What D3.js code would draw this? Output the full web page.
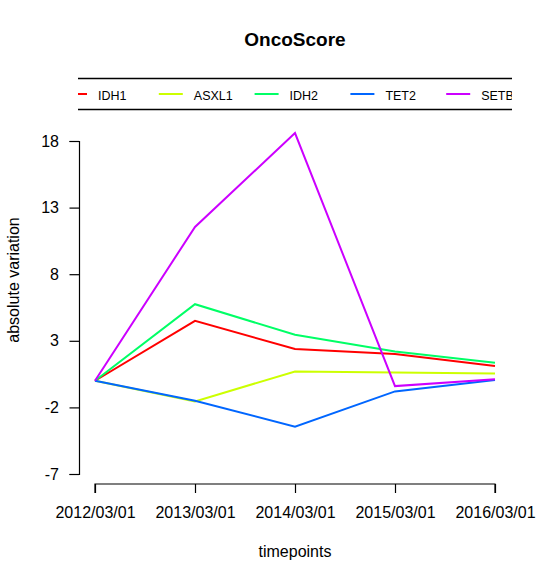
<!DOCTYPE html>
<html>
<head>
<meta charset="utf-8">
<script src="https://cdn.jsdelivr.net/npm/d3@7"></script>
<style>
  body { margin: 0; background: #fff; }
  text { font-family: "Liberation Sans", Arial, sans-serif; }
</style>
</head>
<body>
<div id="chart"></div>
<script>
// data
const timepoints = ['2012/03/01', '2013/03/01', '2014/03/01', '2015/03/01', '2016/03/01'];
const genes = ['IDH1', 'ASXL1', 'IDH2', 'TET2', 'SETBP1'];
const colors = ['#FF0000', '#CCFF00', '#00FF66', '#0066FF', '#CC00FF'];
const idh1 = [0, 4.5, 2.38, 2.0, 1.1];
const asxl1 = [0, -1.55, 0.7, 0.62, 0.55];
const idh2 = [0, 5.75, 3.45, 2.2, 1.35];
const tet2 = [0, -1.5, -3.45, -0.8, 0.05];
const setbp1 = [0, 11.55, 18.6, -0.4, 0.12];
const yTicks = [-7, -2, 3, 8, 13, 18];

const series = [idh1, asxl1, idh2, tet2, setbp1];

const W = 552, H = 581;
const svg = d3.select('#chart')
  .append('svg')
  .attr('width', W)
  .attr('height', H);

const x = d3.scalePoint().domain(timepoints).range([95, 495]);
const y = d3.scaleLinear().domain([-7, 18]).range([474, 141]);

// title
svg.append('text')
  .attr('x', 295).attr('y', 46)
  .attr('text-anchor', 'middle')
  .style('font-size', '19px')
  .style('font-weight', 'bold')
  .text('OncoScore');

// legend box (clipped on the right like the original)
svg.append('clipPath').attr('id', 'legclip')
  .append('rect').attr('x', 78).attr('y', 70).attr('width', 434).attr('height', 45);

const leg = svg.append('g').attr('clip-path', 'url(#legclip)');
leg.append('line').attr('x1', 78).attr('x2', 512).attr('y1', 78.5).attr('y2', 78.5)
  .attr('stroke', '#000').attr('stroke-width', 1.3);
leg.append('line').attr('x1', 78).attr('x2', 512).attr('y1', 109.5).attr('y2', 109.5)
  .attr('stroke', '#000').attr('stroke-width', 1.3);

const legStep = 95.8;
genes.forEach((g, i) => {
  const lx = 63 + i * legStep;
  leg.append('line')
    .attr('x1', lx).attr('x2', lx + 24)
    .attr('y1', 94).attr('y2', 94)
    .attr('stroke', colors[i]).attr('stroke-width', 2);
  leg.append('text')
    .attr('x', lx + 35).attr('y', 99.5)
    .style('font-size', '12.5px')
    .text(g);
});

// axes
const yAxis = svg.append('g')
  .attr('transform', 'translate(79,0)')
  .call(d3.axisLeft(y).tickValues(yTicks).tickSize(9.5).tickPadding(10.5).tickFormat(d => String(d)));
yAxis.select('.domain').attr('stroke-width', 1.2);
yAxis.selectAll('.tick line').attr('stroke-width', 1.2);
yAxis.selectAll('text').style('font-size', '16px').attr('fill', '#000')
  .style('font-family', '"Liberation Sans", Arial, sans-serif');

const xAxis = svg.append('g')
  .attr('transform', 'translate(0,484)')
  .call(d3.axisBottom(x).tickSize(9).tickSizeOuter(0).tickPadding(14));
xAxis.select('.domain').attr('stroke-width', 1.2)
  .attr('d', `M${x(timepoints[0])},9V0H${x(timepoints[4])}V9`);
xAxis.selectAll('.tick line').attr('stroke-width', 1.2);
xAxis.selectAll('text').style('font-size', '16px').attr('fill', '#000')
  .style('font-family', '"Liberation Sans", Arial, sans-serif');

// axis titles
svg.append('text')
  .attr('x', 295).attr('y', 557)
  .attr('text-anchor', 'middle')
  .style('font-size', '16px')
  .text('timepoints');

svg.append('text')
  .attr('transform', 'translate(18.5,280) rotate(-90)')
  .attr('text-anchor', 'middle')
  .style('font-size', '16px')
  .text('absolute variation');

// lines
const line = d3.line()
  .x((d, i) => x(timepoints[i]))
  .y(d => y(d));

series.forEach((s, i) => {
  svg.append('path')
    .datum(s)
    .attr('fill', 'none')
    .attr('stroke', colors[i])
    .attr('stroke-width', 2)
    .attr('d', line);
});
</script>
</body>
</html>
